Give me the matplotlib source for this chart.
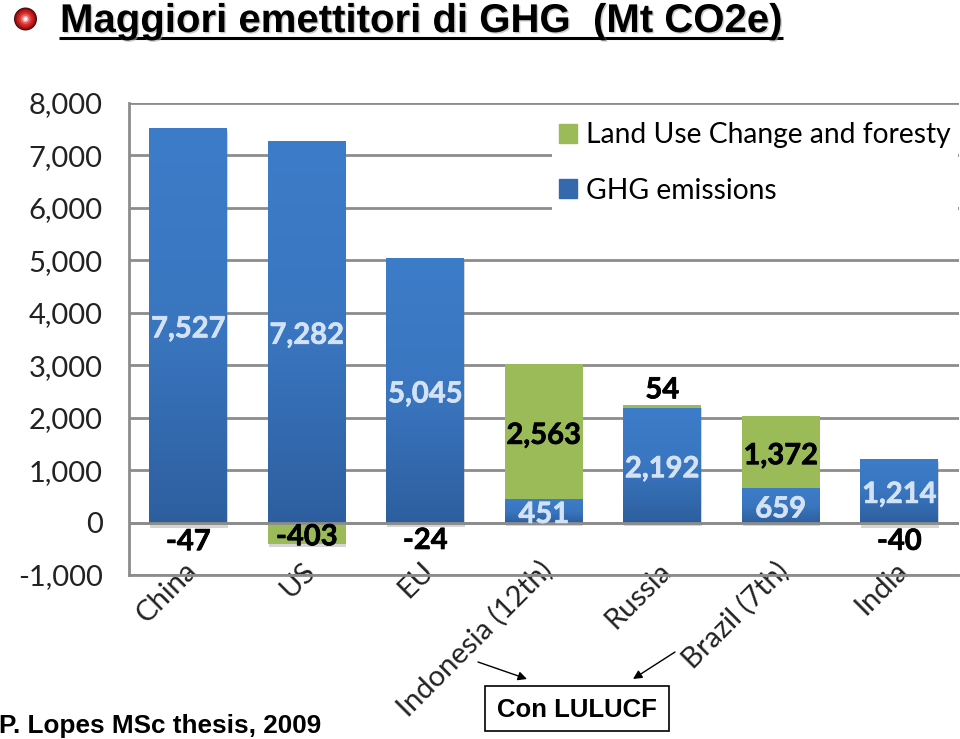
import numpy as np
import matplotlib
matplotlib.use('Agg')
import matplotlib.pyplot as plt
import matplotlib.patheffects as pe
from matplotlib.patches import Circle, Rectangle, Patch
from matplotlib.transforms import ScaledTranslation

# values (Mt CO2e)
countries = ['China', 'US', 'EU', 'Indonesia (12th)', 'Russia', 'Brazil (7th)', 'India']
ghg = [7527, 7282, 5045, 451, 2192, 659, 1214]
lulucf = [-47, -403, -24, 2563, 54, 1372, -40]
yticks = [-1000, 0, 1000, 2000, 3000, 4000, 5000, 6000, 7000, 8000]
ghg_labels = ['7,527', '7,282', '5,045', '451', '2,192', '659', '1,214']
lulucf_inside = ['', '-403', '', '2,563', '', '1,372', '']
lulucf_outside = ['-47', '', '-24', '', '54', '', '-40']

GREY = '#8c8c8c'
GREEN = '#9bbb59'
plt.rcParams['font.family'] = ['Lato', 'DejaVu Sans']

fig = plt.figure(figsize=(9.6, 7.39), dpi=100)
# axes box in pixels: x 129..958, y 103..575
ax = fig.add_axes([129/960, 1 - 575/739, (958.5 - 129)/960, (575 - 103)/739])

x = np.arange(len(countries))
width = 0.655
shadow = [pe.SimplePatchShadow(offset=(0.5, -2.5), shadow_rgbFace='#777777', alpha=0.3), pe.Normal()]

bars_ghg = ax.bar(x, ghg, width, color='#3569ae', zorder=2, path_effects=shadow)
bottoms = [g if v > 0 else 0 for g, v in zip(ghg, lulucf)]
bars_lu = ax.bar(x, lulucf, width, bottom=bottoms, color=GREEN, zorder=2, path_effects=shadow)

# vertical gradient on the blue bars
grad = np.linspace(0, 1, 256).reshape(-1, 1)
cmap = matplotlib.colors.LinearSegmentedColormap.from_list('blue', ['#3d7cc9', '#3a76c0', '#2d5f9f'])
for b in bars_ghg:
    l, w, h = b.get_x(), b.get_width(), b.get_height()
    ax.imshow(grad, cmap=cmap, aspect='auto', extent=(l, l + w, 0, h), zorder=2.1)

ax.set_xlim(-0.5, 6.5)
ax.set_ylim(-1000, 8000)
ax.set_yticks(yticks)
ax.set_yticklabels([f'{v:,}' for v in yticks], fontsize=21, color='#222222')
ax.tick_params(axis='y', length=0, pad=19)
ax.set_xticks(x)
# baseline anchor, otherwise the labels with brackets land lower than the others
ax.set_xticklabels(countries, rotation=45, ha='right', va='baseline', rotation_mode='anchor',
                   fontsize=21, color='#222222', zorder=5)
ax.tick_params(axis='x', length=0, pad=-2)
nudge = ScaledTranslation(10/100, 0, fig.dpi_scale_trans)
for lab in ax.get_xticklabels():
    lab.set_transform(lab.get_transform() + nudge)
ax.grid(axis='y', color=GREY, lw=2)
ax.set_axisbelow(True)
ax.axhline(0, color=GREY, lw=2, zorder=2.8)
for s in ['top', 'right']:
    ax.spines[s].set_visible(False)
for s in ['left', 'bottom']:
    ax.spines[s].set_color(GREY)
    ax.spines[s].set_linewidth(2)


def thicker(color):
    # Lato comes out thin here, stroke the data labels to get the heavy look
    return [pe.withStroke(linewidth=0.5, foreground=color)]


kw = dict(fontsize=21, fontweight='bold', zorder=4)
labs = list(ax.bar_label(bars_ghg, labels=ghg_labels, label_type='center', color='#d3e2f5',
                         path_effects=thicker('#d3e2f5'), **kw))
labs += ax.bar_label(bars_lu, labels=lulucf_inside, label_type='center', color='black',
                     path_effects=thicker('black'), **kw)
for t in labs:
    t.xyann = (t.xyann[0], t.xyann[1] - 3)
outer = ax.bar_label(bars_lu, labels=lulucf_outside, label_type='edge', padding=2, color='black',
                     path_effects=thicker('black'), **kw)
for t in outer:
    t.xyann = (t.xyann[0], t.xyann[1] - 1)

leg = ax.legend(handles=[Patch(color=GREEN, label='Land Use Change and foresty'),
                         Patch(color='#3569ae', label='GHG emissions')],
                loc='upper left', bbox_to_anchor=(552/960, 1 - 115/739), bbox_transform=fig.transFigure,
                fontsize=20.3, frameon=True, framealpha=1, edgecolor='none', fancybox=False,
                handlelength=0.65, handleheight=0.65, handletextpad=0.32, labelspacing=1.05,
                borderaxespad=0, borderpad=0.25)
leg.set_zorder(6)

# slide overlay, in image pixels
ov = fig.add_axes([0, 0, 1, 1])
ov.set_xlim(0, 960)
ov.set_ylim(739, 0)
ov.axis('off')

title_fx = [pe.SimplePatchShadow(offset=(1, -1), shadow_rgbFace='#aaaaaa', alpha=0.6), pe.Normal()]
ov.text(60, 32, 'Maggiori emettitori di GHG  (Mt CO2e)', family='Liberation Sans', fontweight='bold',
        fontsize=28.9, color='black', va='baseline', ha='left', path_effects=title_fx)
ov.plot([59, 783], [37.5, 37.5], color='black', lw=2.2, solid_capstyle='butt')

# red ball bullet
for r, c in [(11.5, '#4a0808'), (10.5, '#8e1010'), (9, '#c01a1a'), (7, '#d83030'), (5, '#e66060'), (3, '#f6b8b8'), (1.5, '#ffffff')]:
    ov.add_patch(Circle((25.5, 19), r, color=c, lw=0))

ov.text(-1, 733, 'P. Lopes MSc thesis, 2009', family='Liberation Sans', fontweight='bold', fontsize=18.8,
        va='baseline', ha='left', color='black')

ov.add_patch(Rectangle((485, 686), 184, 45, fill=False, edgecolor='black', lw=1.2))
ov.text(577, 710, 'Con LULUCF', family='Liberation Sans', fontweight='bold', fontsize=18.5,
        va='center', ha='center', color='black')
arrow = dict(arrowstyle='-|>', color='black', lw=1, shrinkA=0, shrinkB=0, mutation_scale=13)
ov.annotate('', xy=(527, 679), xytext=(478, 662), arrowprops=arrow)
ov.annotate('', xy=(633, 679), xytext=(675, 652), arrowprops=arrow)

fig.savefig('out.png', dpi=100)
